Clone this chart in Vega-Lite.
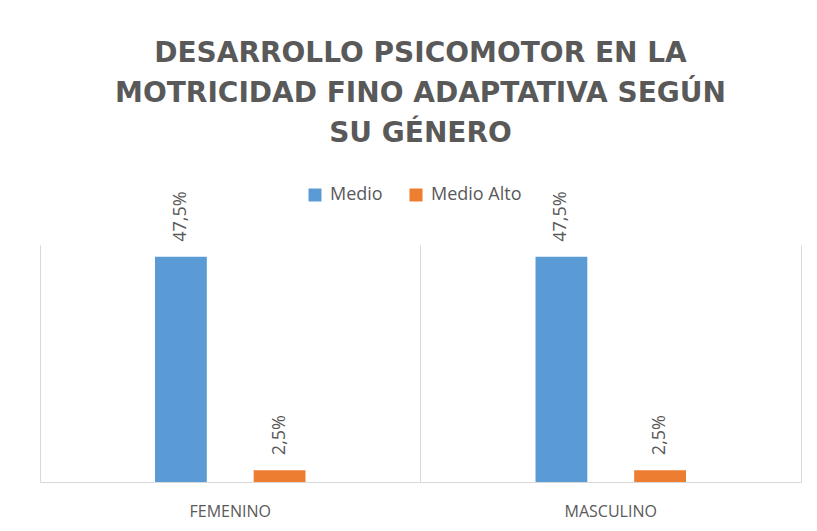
{
  "$schema": "https://vega.github.io/schema/vega-lite/v6.json",
  "autosize": {"type": "none"},
  "width": 761,
  "height": 237,
  "padding": {"left": 40, "top": 245, "right": 16, "bottom": 49},
  "background": "white",
  "title": {
    "text": ["DESARROLLO PSICOMOTOR EN LA", "MOTRICIDAD FINO ADAPTATIVA SEGÚN", "SU GÉNERO"],
    "font": "DejaVu Sans",
    "fontSize": 28,
    "fontWeight": "bold",
    "color": "#595959",
    "lineHeight": 40,
    "anchor": "middle",
    "frame": "group",
    "offset": 38
  },
  "data": {
    "values": [
      {"genero": "FEMENINO", "nivel": "Medio", "porcentaje": 47.5, "etiqueta": "47,5%"},
      {"genero": "FEMENINO", "nivel": "Medio Alto", "porcentaje": 2.5, "etiqueta": "2,5%"},
      {"genero": "MASCULINO", "nivel": "Medio", "porcentaje": 47.5, "etiqueta": "47,5%"},
      {"genero": "MASCULINO", "nivel": "Medio Alto", "porcentaje": 2.5, "etiqueta": "2,5%"}
    ]
  },
  "encoding": {
    "x": {
      "field": "genero",
      "type": "nominal",
      "scale": {"paddingInner": 0.6045, "paddingOuter": 0.30225},
      "axis": {
        "title": null,
        "labelAngle": 0,
        "labelFont": "Open Sans",
        "labelFontSize": 16,
        "labelColor": "#595959",
        "labelPadding": 21,
        "ticks": false,
        "domainColor": "#D9D9D9",
        "grid": true,
        "gridColor": "#D9D9D9",
        "bandPosition": -0.764
      }
    },
    "xOffset": {
      "field": "nivel",
      "type": "nominal",
      "scale": {"paddingInner": 0.475, "paddingOuter": 0}
    },
    "y": {
      "field": "porcentaje",
      "type": "quantitative",
      "scale": {"domain": [0, 50], "nice": false}
    }
  },
  "layer": [
    {
      "mark": {"type": "bar"},
      "encoding": {
        "y": {
          "field": "porcentaje",
          "type": "quantitative",
          "scale": {"domain": [0, 50], "nice": false},
          "axis": {"title": null, "labels": false, "ticks": false, "grid": false, "domain": true, "domainColor": "#D9D9D9", "orient": "left"}
        },
        "color": {
          "field": "nivel",
          "type": "nominal",
          "scale": {"domain": ["Medio", "Medio Alto"], "range": ["#5B9BD5", "#ED7D31"]},
          "legend": {
            "title": null,
            "orient": "none",
            "legendX": 266,
            "legendY": -59,
            "direction": "horizontal",
            "symbolType": "square",
            "symbolSize": 169,
            "symbolStrokeWidth": 0,
            "labelFont": "Open Sans",
            "labelFontSize": 18,
            "labelColor": "#595959",
            "labelOffset": 6,
            "columnPadding": 24
          }
        }
      }
    },
    {
      "mark": {
        "type": "text",
        "angle": 270,
        "align": "left",
        "baseline": "middle",
        "dx": 15,
        "font": "Open Sans",
        "fontSize": 18,
        "color": "#595959"
      },
      "encoding": {
        "y": {
          "field": "porcentaje",
          "type": "quantitative",
          "scale": {"domain": [0, 50], "nice": false},
          "axis": {"title": null, "labels": false, "ticks": false, "grid": false, "domain": true, "domainColor": "#D9D9D9", "orient": "right"}
        },
        "text": {"field": "etiqueta"}
      }
    }
  ],
  "resolve": {"axis": {"y": "independent"}},
  "config": {
    "view": {"stroke": null},
    "axis": {"domainWidth": 1, "gridWidth": 1}
  }
}
